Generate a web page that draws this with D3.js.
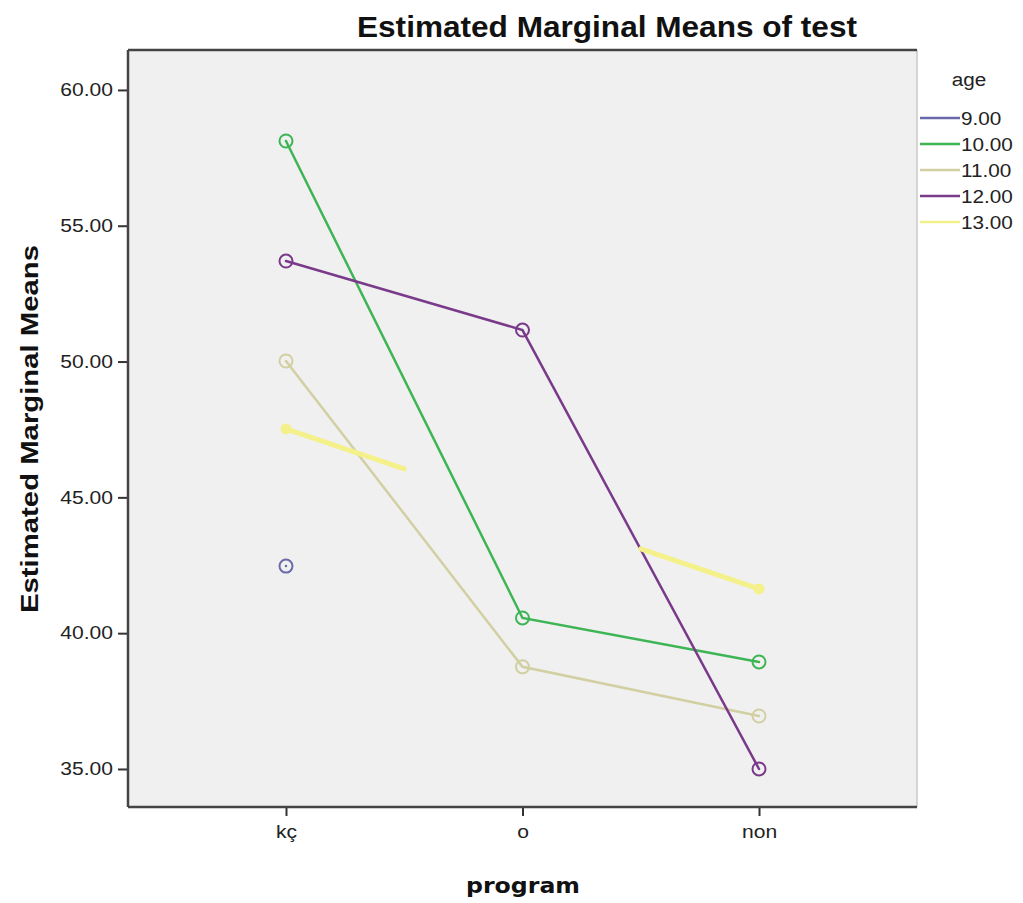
<!DOCTYPE html>
<html><head><meta charset="utf-8">
<script src="https://cdn.jsdelivr.net/npm/d3@7"></script>
<style>body{margin:0;background:#fff}svg{display:block}</style>
</head><body>
<svg id="c" width="1023" height="903"></svg>
<script>
const categories = ["kç", "o", "non"];
const ages = ["9.00", "10.00", "11.00", "12.00", "13.00"];
const age9  = [42.47, null, null];
const age10 = [58.12, 40.56, 38.94];
const age11 = [50.02, 38.76, 36.95];
const age12 = [53.70, 51.16, 35.00];
const age13 = [47.52, null, 41.63];
const yTicks = [35, 40, 45, 50, 55, 60];
const colors = ["#6a6aaa", "#3db554", "#d2cfa2", "#7a3a8a", "#f4f18a"];

const series = [age9, age10, age11, age12, age13];
const svg = d3.select("#c");
const L = 128, R = 917, T = 50, B = 807;
const x = d3.scalePoint().domain(categories).range([L, R]).padding(0.668);
const y = d3.scaleLinear().domain([33.6, 61.47]).range([B, T]);
const font = "Arial, 'Liberation Sans', sans-serif";
function stretch(sel, k) {
  sel.each(function () {
    const n = this.getComputedTextLength();
    d3.select(this).attr("textLength", n * k).attr("lengthAdjust", "spacingAndGlyphs");
  });
}

svg.append("rect").attr("x", L).attr("y", T).attr("width", R - L).attr("height", B - T).attr("fill", "#f0f0f0");

// y axis
const ya = svg.append("g").attr("transform", `translate(${L},0)`)
  .call(d3.axisLeft(y).tickValues(yTicks).tickSize(10).tickPadding(5).tickFormat(d3.format(".2f")));
ya.select(".domain").remove();
ya.selectAll("line").attr("stroke", "#333").attr("stroke-width", 2);
ya.selectAll("text").attr("font-family", font).attr("font-size", 18).attr("fill", "#222");
stretch(ya.selectAll("text"), 1.17);

// x axis
const xa = svg.append("g").attr("transform", `translate(0,${B})`)
  .call(d3.axisBottom(x).tickSize(9).tickPadding(9));
xa.select(".domain").remove();
xa.selectAll("line").attr("stroke", "#333").attr("stroke-width", 2);
xa.selectAll("text").attr("font-family", font).attr("font-size", 18).attr("fill", "#222");
stretch(xa.selectAll("text"), 1.17);

// frame
svg.append("line").attr("x1", R).attr("x2", R).attr("y1", T).attr("y2", B).attr("stroke", "#c8c8c8").attr("stroke-width", 1.5);
svg.append("line").attr("x1", L).attr("x2", R).attr("y1", T).attr("y2", T).attr("stroke", "#444").attr("stroke-width", 2.5);
svg.append("line").attr("x1", L).attr("x2", R).attr("y1", B).attr("y2", B).attr("stroke", "#444").attr("stroke-width", 2.5);
svg.append("line").attr("x1", L).attr("x2", L).attr("y1", T).attr("y2", B).attr("stroke", "#444").attr("stroke-width", 2.5);

// lines
const plot = svg.append("g");
series.forEach((vals, i) => {
  const pts = vals.map((v, j) => ({c: categories[j], v}));
  const w = i === 4 ? 5 : 2.5;
  const line = d3.line().defined(d => d.v != null).x(d => x(d.c)).y(d => y(d.v));
  plot.append("path").datum(pts).attr("d", line).attr("fill", "none")
    .attr("stroke", colors[i]).attr("stroke-width", w).attr("stroke-linecap", "round");
  const def = pts.filter(d => d.v != null);
  if (i === 4 && def.length === 2) {
    const a = def[0], b = def[1];
    const x0 = x(a.c), y0 = y(a.v), x1 = x(b.c), y1 = y(b.v);
    const f = 0.25;
    [[0, f], [1 - f, 1]].forEach(([s, e]) => {
      plot.append("line")
        .attr("x1", x0 + (x1 - x0) * s).attr("y1", y0 + (y1 - y0) * s)
        .attr("x2", x0 + (x1 - x0) * e).attr("y2", y0 + (y1 - y0) * e)
        .attr("stroke", colors[i]).attr("stroke-width", w).attr("stroke-linecap", "round");
    });
  }
  def.forEach(d => {
    if (i === 4) {
      plot.append("circle").attr("cx", x(d.c)).attr("cy", y(d.v)).attr("r", 5.5)
        .attr("fill", colors[i]).attr("stroke", "none");
    } else {
      plot.append("circle").attr("cx", x(d.c)).attr("cy", y(d.v)).attr("r", 6.5)
        .attr("fill", "none").attr("stroke", colors[i]).attr("stroke-width", 2);
    }
  });
});

// titles
svg.append("text").attr("x", 607).attr("y", 37).attr("text-anchor", "middle")
  .attr("font-family", font).attr("font-weight", "bold").attr("font-size", 30).attr("fill", "#111")
  .attr("textLength", 500).attr("lengthAdjust", "spacingAndGlyphs")
  .text("Estimated Marginal Means of test");
svg.append("text").attr("x", 523).attr("y", 893).attr("text-anchor", "middle")
  .attr("font-family", "'DejaVu Sans', Verdana, sans-serif").attr("font-weight", "bold").attr("font-size", 22).attr("fill", "#111")
  .attr("textLength", 114).attr("lengthAdjust", "spacingAndGlyphs")
  .text("program");
svg.append("text").attr("transform", "translate(38,429) rotate(-90)").attr("text-anchor", "middle")
  .attr("font-family", font).attr("font-weight", "bold").attr("font-size", 24).attr("fill", "#111")
  .attr("textLength", 368).attr("lengthAdjust", "spacingAndGlyphs")
  .text("Estimated Marginal Means");

// legend
const lg = svg.append("g");
const ageT = lg.append("text").attr("x", 969).attr("y", 86).attr("text-anchor", "middle")
  .attr("font-family", font).attr("font-size", 18).attr("fill", "#222").text("age");
stretch(ageT, 1.15);
ages.forEach((a, i) => {
  const yy = 118 + i * 26;
  lg.append("line").attr("x1", 920).attr("x2", 960).attr("y1", yy).attr("y2", yy)
    .attr("stroke", colors[i]).attr("stroke-width", 2.5);
  const t = lg.append("text").attr("x", 961).attr("y", yy + 7).attr("font-family", font).attr("font-size", 18)
    .attr("fill", "#222").text(a);
  stretch(t, 1.15);
});
</script>
</body></html>
